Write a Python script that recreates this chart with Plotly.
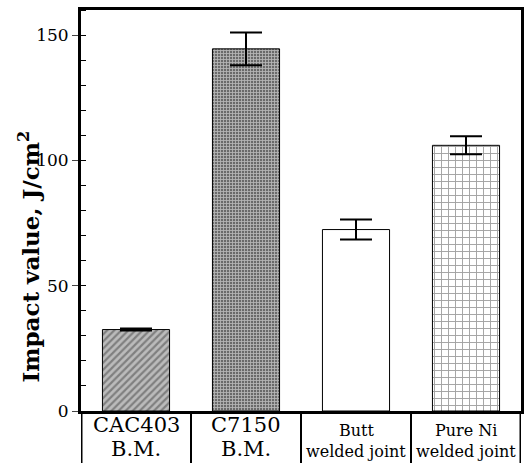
import plotly.graph_objects as go

cat_line1 = ["CAC403", "C7150", "Butt", "Pure Ni"]
cat_line2 = ["B.M.", "B.M.", "welded joint", "welded joint"]
label_sizes = [21, 21, 16, 16]
values = [32.5, 144.5, 72.4, 106.0]
errors = [0.4, 6.5, 4.0, 3.6]
y_ticks = [0, 50, 100, 150]

fg = ["#222222", "#111111", "#ffffff", "#000000"]
bg = ["#bbbbbb", "#6a6a6a", "#ffffff", "#ffffff"]
shapes_pat = ["/", "+", "", "+"]
sizes = [5, 3, 8, 7]
solid = [0.45, 0.5, 0.3, 0.25]

xs = list(range(len(values)))
fig = go.Figure()
fig.add_trace(go.Bar(
    x=xs, y=values, width=0.61,
    marker=dict(color=bg, line=dict(color="black", width=1),
                pattern=dict(shape=shapes_pat, fgcolor=fg, bgcolor=bg, size=sizes,
                             solidity=solid, fillmode="overlay")),
    error_y=dict(type="data", array=errors, visible=True, color="black", thickness=2, width=16),
    showlegend=False,
))

serif = "DejaVu Serif"
H_PLOT = 463 - 10 - 52
fig.update_layout(
    width=525, height=463,
    margin=dict(l=81, r=4, t=10, b=52, autoexpand=False),
    plot_bgcolor="white", paper_bgcolor="white",
    font=dict(family=serif, color="black"),
    xaxis=dict(range=[-0.5, 3.5], showticklabels=False, ticks="", showgrid=False, automargin=False,
               showline=True, linecolor="black", linewidth=3, mirror=True, zeroline=False),
    yaxis=dict(range=[0, 160], tickvals=y_ticks, ticks="outside", ticklen=6, tickwidth=1,
               tickfont=dict(family=serif, size=17), showgrid=False, zeroline=False, automargin=False,
               showline=True, linecolor="black", linewidth=3, mirror=True,
               minor=dict(dtick=10, ticks="inside", ticklen=5, tickwidth=1, tickcolor="black", showgrid=False)),
)

# y-axis title as rotated annotation
fig.add_annotation(x=-52 / 440, y=0.385, xref="paper", yref="paper", xanchor="center", yanchor="middle",
                   text="<b>Impact value, J/cm<sup>2</sup></b>", textangle=-90, showarrow=False,
                   font=dict(family=serif, size=23, color="black"))

# category table below the plot
ybot = -52 / H_PLOT
shapes = []
for xv in [-0.5, 0.5, 1.5, 2.5, 3.5]:
    lw = 3 if xv in (-0.5, 3.5) else 2
    shapes.append(dict(type="line", xref="x", yref="paper", x0=xv, x1=xv, y0=0, y1=ybot,
                       line=dict(color="black", width=lw)))
fig.update_layout(shapes=shapes)

for i in range(len(values)):
    big = label_sizes[i] > 18
    y1 = -14 / H_PLOT if big else -19 / H_PLOT
    y2 = -38 / H_PLOT if big else -40 / H_PLOT
    fig.add_annotation(x=i, y=y1, xref="x", yref="paper", text=cat_line1[i], showarrow=False,
                       yanchor="middle", font=dict(family=serif, size=label_sizes[i], color="black"))
    fig.add_annotation(x=i, y=y2, xref="x", yref="paper", text=cat_line2[i], showarrow=False,
                       yanchor="middle", font=dict(family=serif, size=label_sizes[i], color="black"))

fig.write_html("out.html", config={"displayModeBar": False},
               post_script="document.body.style.margin='0';document.body.style.overflow='hidden';")
